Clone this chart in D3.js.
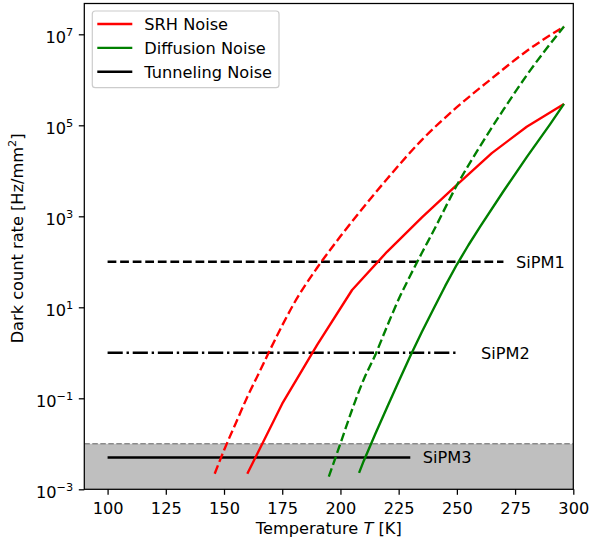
<!DOCTYPE html>
<html>
<head>
<meta charset="utf-8">
<script src="https://cdn.jsdelivr.net/npm/d3@7"></script>
<style>
  html, body { margin: 0; padding: 0; background: #fff; }
  svg { display: block; font-family: "DejaVu Sans", sans-serif; }
</style>
</head>
<body>
<svg id="chart" width="589" height="545"></svg>
<script>
// Dark count rate vs temperature, per noise mechanism
const srhSolidT    = [160, 175, 190, 205, 220, 235, 250, 265, 280, 296];
const srhSolidRate = [2.2e-3, 0.076, 1.5, 24, 166, 950, 4900, 2.45e4, 9.3e4, 2.95e5];

const srhDashT    = [146, 150, 155, 160, 165, 170, 175, 180, 190, 200, 210, 220, 235, 250, 265, 280, 296];
const srhDashRate = [2.2e-3, 7.2e-3, 0.028, 0.107, 0.36, 1.23, 4.0, 12, 74, 363, 1600, 6600, 4.8e4, 2.5e5, 1.07e6, 4.3e6, 1.48e7];

const diffSolidT    = [208, 210, 215, 220, 225, 230, 235, 240, 245, 250, 255, 260, 270, 280, 290, 296];
const diffSolidRate = [2.3e-3, 4.2e-3, 0.0166, 0.063, 0.234, 0.85, 2.9, 9.3, 29.5, 87, 234, 590, 3550, 2.0e4, 1.05e5, 2.95e5];

const diffDashT    = [195, 200, 205, 210, 215, 220, 225, 230, 235, 240, 250, 260, 270, 280, 296];
const diffDashRate = [1.9e-3, 0.0102, 0.056, 0.26, 0.91, 3.8, 15, 50, 158, 480, 4800, 3.5e4, 2.2e5, 1.26e6, 1.48e7];

// Tunneling noise levels of the three devices
const sipmNames = ["SiPM1", "SiPM2", "SiPM3"];
const sipmRate  = [100, 1, 0.005];
const sipmTmin  = [100, 100, 100];
const sipmTmax  = [270, 250, 230];

// Band below the detection floor
const floorBand = [1e-3, 1e-2];

const xTicks = [100, 125, 150, 175, 200, 225, 250, 275, 300];
const yTickExp = [-3, -1, 1, 3, 5, 7];

const legendLabels = ["SRH Noise", "Diffusion Noise", "Tunneling Noise"];
const legendColors = ["red", "green", "black"];

const W = 589, H = 545;
const plot = { left: 84.3, right: 573.3, top: 3.5, bottom: 489.3 };
const FS = 16.2;
const LW = 2.37;

const svg = d3.select("#chart");

const x = d3.scaleLinear().domain([90, 300]).range([plot.left, plot.right]);
const y = d3.scaleLog().domain([1e-3, Math.pow(10, 7.677)]).range([plot.bottom, plot.top]);

svg.append("defs").append("clipPath").attr("id", "clip")
  .append("rect")
  .attr("x", plot.left).attr("y", plot.top)
  .attr("width", plot.right - plot.left).attr("height", plot.bottom - plot.top);

const g = svg.append("g").attr("clip-path", "url(#clip)");

// shaded floor band
g.append("rect")
  .attr("x", plot.left)
  .attr("width", plot.right - plot.left)
  .attr("y", y(floorBand[1]))
  .attr("height", y(floorBand[0]) - y(floorBand[1]))
  .attr("fill", "#bfbfbf");
g.append("line")
  .attr("x1", plot.left).attr("x2", plot.right)
  .attr("y1", y(floorBand[1])).attr("y2", y(floorBand[1]))
  .attr("stroke", "#8a8a8a").attr("stroke-width", 1.4)
  .attr("stroke-dasharray", "5.5,2.5");

// tunneling levels
const dashStyles = [`${3.7*LW},${1.6*LW}`, `${6.4*LW},${1.6*LW},${1*LW},${1.6*LW}`, null];
sipmRate.forEach((r, i) => {
  const ln = g.append("line")
    .attr("x1", x(sipmTmin[i])).attr("x2", x(sipmTmax[i]))
    .attr("y1", y(r)).attr("y2", y(r))
    .attr("stroke", "black").attr("stroke-width", LW);
  if (dashStyles[i]) ln.attr("stroke-dasharray", dashStyles[i]);
});

function drawCurve(T, R, color, dashed) {
  const pts = T.map((t, i) => [t, R[i]]);
  const line = d3.line()
    .x(d => x(d[0])).y(d => y(d[1]))
    .curve(dashed ? d3.curveMonotoneX : d3.curveLinear);
  const p = g.append("path").datum(pts)
    .attr("d", line)
    .attr("fill", "none")
    .attr("stroke", color)
    .attr("stroke-width", LW)
    .attr("stroke-linejoin", "round");
  if (dashed) p.attr("stroke-dasharray", `${3.7*LW},${1.6*LW}`);
}
drawCurve(srhSolidT, srhSolidRate, "red", false);
drawCurve(srhDashT, srhDashRate, "red", true);
drawCurve(diffSolidT, diffSolidRate, "green", false);
drawCurve(diffDashT, diffDashRate, "green", true);

// device labels
const labelT = [276, 261, 236];
sipmNames.forEach((n, i) => {
  svg.append("text")
    .attr("x", x(labelT[i]) - 1.5)
    .attr("y", y(sipmRate[i]) + 5.8)
    .attr("font-size", FS)
    .attr("fill", "#000")
    .text(n);
});

// frame
svg.append("rect")
  .attr("x", plot.left).attr("y", plot.top)
  .attr("width", plot.right - plot.left).attr("height", plot.bottom - plot.top)
  .attr("fill", "none").attr("stroke", "black").attr("stroke-width", 1.26);

// x axis
const xAxis = d3.axisBottom(x).tickValues(xTicks).tickSize(5.5).tickPadding(5.5).tickFormat(d3.format("d"));
const xg = svg.append("g").attr("transform", `translate(0,${plot.bottom})`).call(xAxis);
xg.select(".domain").remove();
xg.selectAll(".tick line").attr("stroke", "black").attr("stroke-width", 1.26);
xg.selectAll(".tick text").attr("font-size", FS).attr("font-family", "DejaVu Sans").attr("fill", "black")
  .attr("dy", null).attr("y", 24.4);

// y axis with power-of-ten labels
const yAxis = d3.axisLeft(y).tickValues(yTickExp.map(e => Math.pow(10, e))).tickSize(5.5).tickFormat("");
const yg = svg.append("g").attr("transform", `translate(${plot.left},0)`).call(yAxis);
yg.select(".domain").remove();
yg.selectAll(".tick line").attr("stroke", "black").attr("stroke-width", 1.26);
yg.selectAll(".tick").each(function(d) {
  const e = Math.round(Math.log10(d));
  const t = d3.select(this).append("text")
    .attr("x", -11).attr("y", 8.5)
    .attr("text-anchor", "end")
    .attr("font-size", FS)
    .attr("font-family", "DejaVu Sans")
    .attr("fill", "black");
  t.append("tspan").text("10");
  t.append("tspan").attr("font-size", FS * 0.7).attr("dy", -7.4)
    .text(e < 0 ? "\u2212" + Math.abs(e) : String(e));
});

// axis titles
const xt = svg.append("text")
  .attr("x", (plot.left + plot.right) / 2).attr("y", 533.5)
  .attr("text-anchor", "middle").attr("font-size", FS);
xt.append("tspan").text("Temperature ");
xt.append("tspan").attr("font-style", "italic").text("T");
xt.append("tspan").text(" [K]");

const yt = svg.append("text")
  .attr("transform", `translate(22.7,${(plot.top + plot.bottom) / 2 - 8}) rotate(-90)`)
  .attr("text-anchor", "middle").attr("font-size", FS);
yt.append("tspan").text("Dark count rate [Hz/mm");
yt.append("tspan").attr("font-size", FS * 0.7).attr("dy", -6.7).text("2");
yt.append("tspan").attr("dy", 6.7).text("]");

// legend
const lg = svg.append("g");
lg.append("rect")
  .attr("x", 92.3).attr("y", 11).attr("width", 186.7).attr("height", 76.7)
  .attr("rx", 3).attr("fill", "white").attr("fill-opacity", 0.8)
  .attr("stroke", "#cccccc").attr("stroke-width", 1.2);
legendLabels.forEach((lab, i) => {
  const yy = 24 + i * 23.85;
  lg.append("line").attr("x1", 97.3).attr("x2", 132.3).attr("y1", yy).attr("y2", yy)
    .attr("stroke", legendColors[i]).attr("stroke-width", LW);
  lg.append("text").attr("x", 144.3).attr("y", yy + 5.8).attr("font-size", FS).text(lab);
});
</script>
</body>
</html>
